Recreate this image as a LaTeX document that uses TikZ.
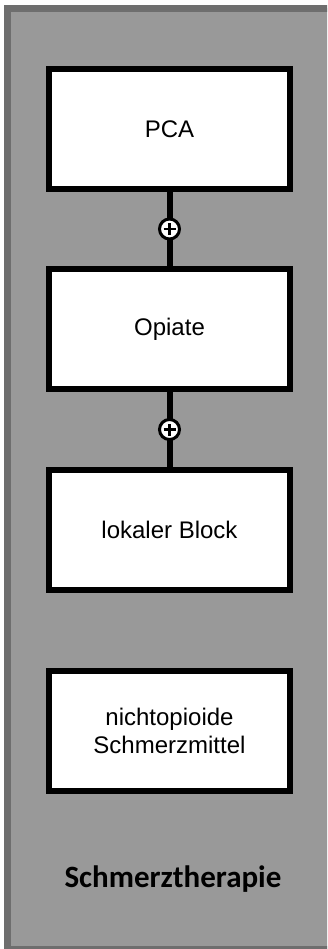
\documentclass[tikz,border=0pt]{standalone}
\usepackage{fontspec}
\setmainfont{Liberation Sans}
\newfontfamily\titlefont{Carlito}
\usepackage{xcolor}
\usetikzlibrary{positioning}
\definecolor{panelgrey}{HTML}{999999}
\definecolor{paneledge}{HTML}{6E6E6E}
\tikzstyle{therapy}=[draw=black,fill=white,line width=6pt,minimum width=241pt,minimum height=120pt,align=center,font=\fontsize{24}{28}\selectfont]
\tikzstyle{link}=[line width=6pt]
\tikzstyle{plusnode}=[circle,draw=black,fill=white,line width=3pt,minimum size=20pt,inner sep=0pt,
	path picture={\draw[line width=2.2pt]
		([xshift=-6pt]path picture bounding box.center) -- ([xshift=6pt]path picture bounding box.center)
		([yshift=-6pt]path picture bounding box.center) -- ([yshift=6pt]path picture bounding box.center);}]
\tikzstyle{paneltitle}=[font=\titlefont\bfseries\fontsize{31}{36}\selectfont]

\begin{document}
\begin{tikzpicture}
	\useasboundingbox (0,0) rectangle (327pt,-949pt);
	\clip (0,0) rectangle (327pt,-949pt);
	\draw[line width=7pt,draw=paneledge,fill=panelgrey] (7.5pt,-8.5pt) rectangle (345pt,-949pt);
	\node[therapy] (pca) at (169.5pt,-129pt) {PCA};
	\node[therapy,below=74pt of pca]    (opiate)  {Opiate};
	\node[therapy,below=75pt of opiate] (block)   {lokaler Block};
	\node[therapy,below=75pt of block]  (nopioid) {nichtopioide\\Schmerzmittel};
	\node[paneltitle] (title) at (173pt,-879pt) {Schmerztherapie};
	\draw[link] (pca)    -- node[plusnode] (plus1) {} (opiate);
	\draw[link] (opiate) -- node[plusnode] (plus2) {} (block);
\end{tikzpicture}
\end{document}
